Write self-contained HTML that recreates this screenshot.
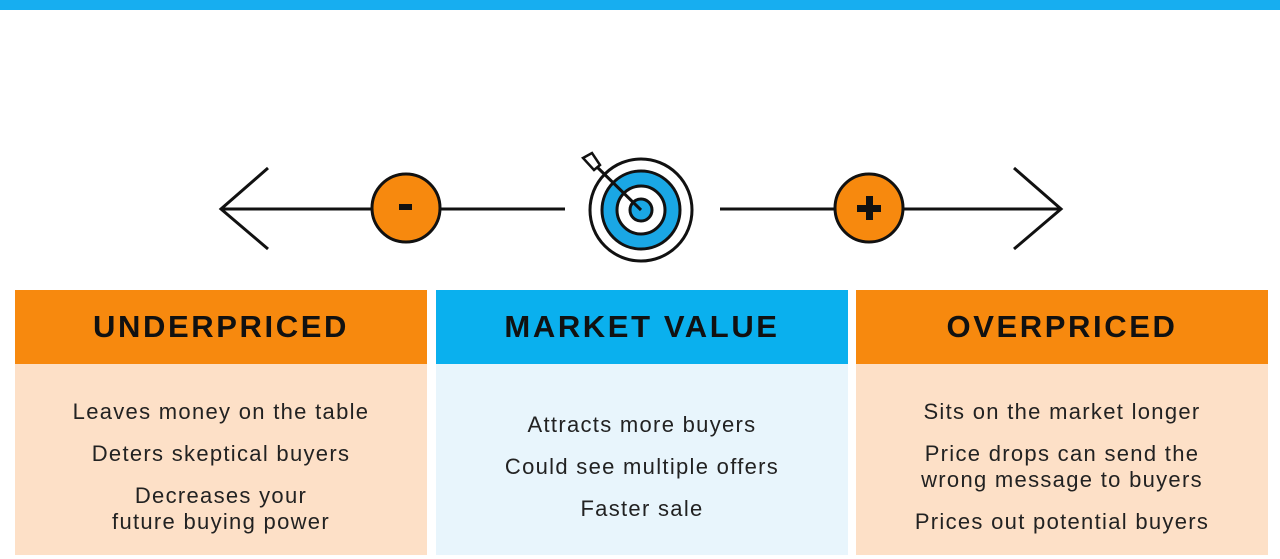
<!DOCTYPE html>
<html><head><style>
body{margin:0;width:1280px;height:559px;background:#fff;position:relative;overflow:hidden;font-family:"Liberation Sans",sans-serif}
.bar{position:absolute;left:0;top:0;width:1280px;height:10px;background:#17aef0}
.p{position:absolute;top:290px;width:412px;height:265px}
.h{height:74px;display:flex;align-items:center;justify-content:center;font-weight:bold;font-size:31px;color:#111;letter-spacing:2.6px}
.b{height:191px;display:flex;flex-direction:column;justify-content:center;align-items:center;text-align:center;font-size:22px;color:#222;line-height:26px;letter-spacing:1.3px;padding-top:14px;box-sizing:border-box}
.b div{margin:8px 0}
</style></head><body>
<div class="bar"></div>
<svg width="1280" height="290" style="position:absolute;left:0;top:0">
<g stroke="#111" stroke-width="3" fill="none">
<line x1="221" y1="209" x2="565" y2="209"/>
<polyline points="268,168 221,209 268,249"/>
<line x1="720" y1="209" x2="1061" y2="209"/>
<polyline points="1014,168 1061,209 1014,249"/>
</g>
<circle cx="406" cy="208" r="34" fill="#f7890e" stroke="#111" stroke-width="3"/>
<rect x="399" y="204" width="13" height="6" fill="#111"/>
<circle cx="869" cy="208" r="34" fill="#f7890e" stroke="#111" stroke-width="3"/>
<rect x="857" y="205" width="24" height="7" fill="#111"/><rect x="866" y="196" width="7" height="24" fill="#111"/>
<circle cx="641" cy="210" r="51" fill="#fff" stroke="#111" stroke-width="3"/>
<circle cx="641" cy="210" r="39" fill="#1aa7e5" stroke="#111" stroke-width="3"/>
<circle cx="641" cy="210" r="24" fill="#fff" stroke="#111" stroke-width="3"/>
<circle cx="641" cy="210" r="11" fill="#1aa7e5" stroke="#111" stroke-width="3"/>
<line x1="641" y1="210" x2="595" y2="165" stroke="#111" stroke-width="3"/>
<polygon points="583,158 592,153 600,165 594,170" fill="#fff" stroke="#111" stroke-width="2.5"/>
</svg>
<div class="p" style="left:15px"><div class="h" style="background:#f7890e">UNDERPRICED</div><div class="b" style="background:#fde0c7"><div>Leaves money on the table</div><div>Deters skeptical buyers</div><div>Decreases your<br>future buying power</div></div></div>
<div class="p" style="left:436px"><div class="h" style="background:#0ab0ee">MARKET VALUE</div><div class="b" style="background:#e8f5fc"><div>Attracts more buyers</div><div>Could see multiple offers</div><div>Faster sale</div></div></div>
<div class="p" style="left:856px"><div class="h" style="background:#f7890e">OVERPRICED</div><div class="b" style="background:#fde0c7"><div>Sits on the market longer</div><div>Price drops can send the<br>wrong message to buyers</div><div>Prices out potential buyers</div></div></div>
</body></html>
